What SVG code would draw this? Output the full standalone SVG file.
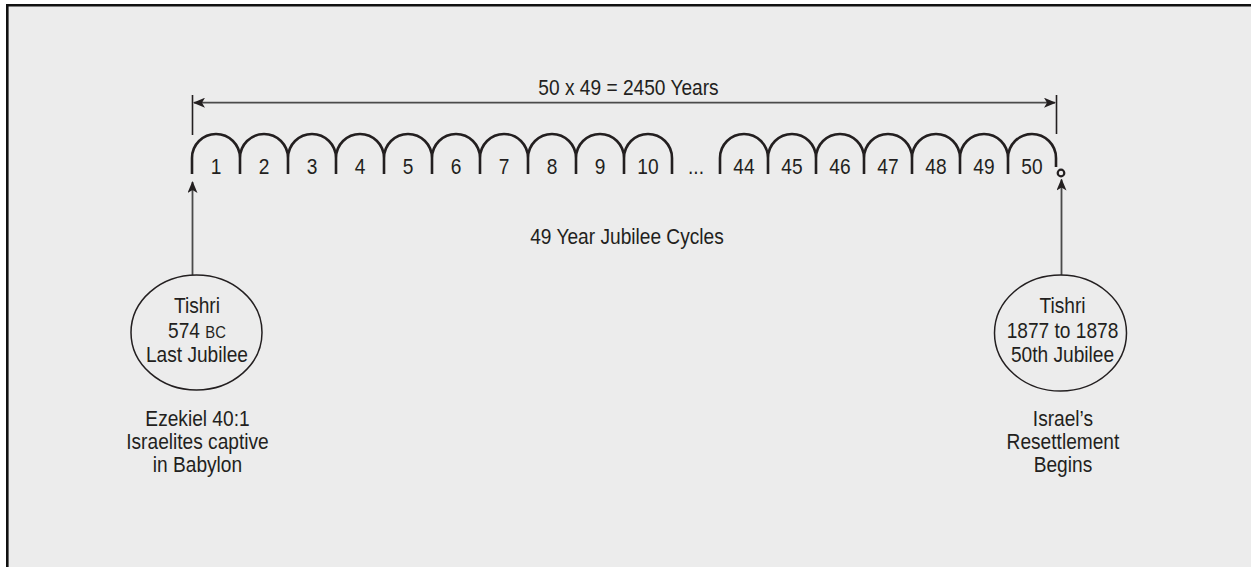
<svg xmlns="http://www.w3.org/2000/svg" width="1251" height="567" viewBox="0 0 1251 567">
<style>
text{font-family:"Liberation Sans",Arial,sans-serif;font-size:22px;fill:#231f20;text-anchor:middle}
.sc{font-size:17px}
.arch{fill:none;stroke:#231f20;stroke-width:2.6}
.conn{fill:none;stroke:#4a4a4a;stroke-width:1.8}
.tick{fill:none;stroke:#231f20;stroke-width:1.6}
.ell{fill:none;stroke:#231f20;stroke-width:1.5}
</style>
<defs>
<marker id="ah" viewBox="0 0 12 10" refX="11" refY="5" markerWidth="12" markerHeight="10" markerUnits="userSpaceOnUse" orient="auto-start-reverse">
<path d="M0,0 L12,5 L0,10 L3,5 z" fill="#231f20"/>
</marker>
</defs>
<rect x="0" y="0" width="1251" height="567" fill="#ffffff"/>
<rect x="7" y="5" width="1244" height="562" fill="#ececec"/>
<line x1="6" y1="5.3" x2="1251" y2="5.3" stroke="#111" stroke-width="2.6"/>
<line x1="7.3" y1="4" x2="7.3" y2="567" stroke="#111" stroke-width="2.6"/>

<g id="dimension">
<line class="tick" x1="192.5" y1="95" x2="192.5" y2="135"/>
<line class="tick" x1="1056.5" y1="95" x2="1056.5" y2="134"/>
<line class="conn" x1="194" y1="102.7" x2="1055" y2="102.7" marker-start="url(#ah)" marker-end="url(#ah)"/>
<g transform="scale(0.87 1)"><text x="722.4" y="95">50 x 49 = 2450 Years</text></g>
</g>

<g id="cycles">
<path class="arch" d="M192,174 V158 A24,24 0 0 1 240,158 A24,24 0 0 1 288,158 A24,24 0 0 1 336,158 A24,24 0 0 1 384,158 A24,24 0 0 1 432,158 A24,24 0 0 1 480,158 A24,24 0 0 1 528,158 A24,24 0 0 1 576,158 A24,24 0 0 1 624,158 A24,24 0 0 1 672,158 V174"/>
<path class="arch" d="M240,158 V174 M288,158 V174 M336,158 V174 M384,158 V174 M432,158 V174 M480,158 V174 M528,158 V174 M576,158 V174 M624,158 V174"/>
<path class="arch" d="M720,174 V158 A24,24 0 0 1 768,158 A24,24 0 0 1 816,158 A24,24 0 0 1 864,158 A24,24 0 0 1 912,158 A24,24 0 0 1 960,158 A24,24 0 0 1 1008,158 A24,24 0 0 1 1056,158 V167"/>
<path class="arch" d="M768,158 V174 M816,158 V174 M864,158 V174 M912,158 V174 M960,158 V174 M1008,158 V174"/>
<circle cx="1061" cy="173" r="3.3" fill="none" stroke="#231f20" stroke-width="2.2"/>
<g transform="scale(0.87 1)">
<text x="248.28" y="174">1</text>
<text x="303.45" y="174">2</text>
<text x="358.62" y="174">3</text>
<text x="413.79" y="174">4</text>
<text x="468.97" y="174">5</text>
<text x="524.14" y="174">6</text>
<text x="579.31" y="174">7</text>
<text x="634.48" y="174">8</text>
<text x="689.66" y="174">9</text>
<text x="744.83" y="174">10</text>
<text x="800" y="174">...</text>
<text x="855.17" y="174">44</text>
<text x="910.34" y="174">45</text>
<text x="965.52" y="174">46</text>
<text x="1020.69" y="174">47</text>
<text x="1075.86" y="174">48</text>
<text x="1131.03" y="174">49</text>
<text x="1186.21" y="174">50</text>
<text x="720.7" y="244">49 Year Jubilee Cycles</text>
</g>
</g>

<g id="connectors">
<line class="conn" x1="192.5" y1="275" x2="192.5" y2="182" marker-end="url(#ah)"/>
<line class="conn" x1="1061.5" y1="275" x2="1061.5" y2="179.5" marker-end="url(#ah)"/>
</g>

<g id="node-start">
<ellipse class="ell" cx="196.5" cy="332.5" rx="65.5" ry="57.5"/>
<g transform="scale(0.87 1)">
<text x="226.4" y="313">Tishri</text>
<text x="226.4" y="338">574 <tspan class="sc">BC</tspan></text>
<text x="226.4" y="362">Last Jubilee</text>
</g>
</g>

<g id="note-start">
<g transform="scale(0.87 1)">
<text x="227" y="426">Ezekiel 40:1</text>
<text x="227" y="449">Israelites captive</text>
<text x="227" y="472">in Babylon</text>
</g>
</g>

<g id="node-end">
<ellipse class="ell" cx="1060.5" cy="333" rx="66" ry="58"/>
<g transform="scale(0.87 1)">
<text x="1221.3" y="313">Tishri</text>
<text x="1221.3" y="338">1877 to 1878</text>
<text x="1221.3" y="362">50th Jubilee</text>
</g>
</g>

<g id="note-end">
<g transform="scale(0.87 1)">
<text x="1221.8" y="426">Israel’s</text>
<text x="1221.8" y="449">Resettlement</text>
<text x="1221.8" y="472">Begins</text>
</g>
</g>
</svg>
